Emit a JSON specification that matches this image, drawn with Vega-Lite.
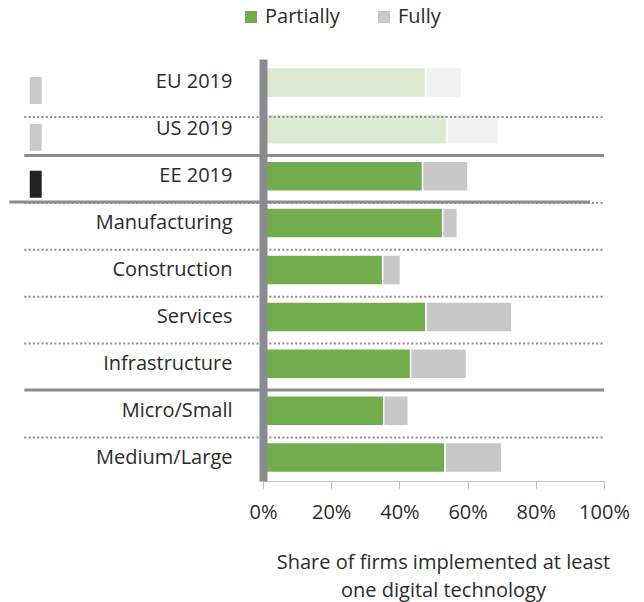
{
  "$schema": "https://vega.github.io/schema/vega-lite/v6.json",
  "width": 341,
  "height": 422,
  "autosize": {"type": "none"},
  "padding": {"left": 263, "top": 59, "right": 40, "bottom": 121},
  "config": {
    "view": {"stroke": null},
    "font": "Open Sans",
    "axis": {"labelFont": "Open Sans", "titleFont": "Open Sans", "labelColor": "#2b2b2b", "titleColor": "#2b2b2b", "titleFontWeight": "normal", "grid": false},
    "legend": {"labelFont": "Open Sans", "labelColor": "#2b2b2b", "labelFontSize": 20, "symbolType": "square", "symbolSize": 144, "symbolStrokeWidth": 0, "orient": "none", "direction": "horizontal", "legendX": -22, "legendY": -52, "columnPadding": 34, "labelOffset": 4, "title": null}
  },
  "datasets": {
    "bars": [
      {"cat": "EU 2019", "type": "Partially", "value": 47.7, "ord": 1, "bench": "yes"},
      {"cat": "EU 2019", "type": "Fully", "value": 10.5, "ord": 2, "bench": "yes"},
      {"cat": "US 2019", "type": "Partially", "value": 54.0, "ord": 1, "bench": "yes"},
      {"cat": "US 2019", "type": "Fully", "value": 15.2, "ord": 2, "bench": "yes"},
      {"cat": "EE 2019", "type": "Partially", "value": 46.8, "ord": 1, "bench": "no"},
      {"cat": "EE 2019", "type": "Fully", "value": 13.3, "ord": 2, "bench": "no"},
      {"cat": "Manufacturing", "type": "Partially", "value": 52.7, "ord": 1, "bench": "no"},
      {"cat": "Manufacturing", "type": "Fully", "value": 4.3, "ord": 2, "bench": "no"},
      {"cat": "Construction", "type": "Partially", "value": 35.1, "ord": 1, "bench": "no"},
      {"cat": "Construction", "type": "Fully", "value": 5.2, "ord": 2, "bench": "no"},
      {"cat": "Services", "type": "Partially", "value": 47.8, "ord": 1, "bench": "no"},
      {"cat": "Services", "type": "Fully", "value": 25.2, "ord": 2, "bench": "no"},
      {"cat": "Infrastructure", "type": "Partially", "value": 43.3, "ord": 1, "bench": "no"},
      {"cat": "Infrastructure", "type": "Fully", "value": 16.4, "ord": 2, "bench": "no"},
      {"cat": "Micro/Small", "type": "Partially", "value": 35.4, "ord": 1, "bench": "no"},
      {"cat": "Micro/Small", "type": "Fully", "value": 7.2, "ord": 2, "bench": "no"},
      {"cat": "Medium/Large", "type": "Partially", "value": 53.4, "ord": 1, "bench": "no"},
      {"cat": "Medium/Large", "type": "Fully", "value": 16.6, "ord": 2, "bench": "no"}
    ],
    "seps": [
      {"cat": "US 2019", "kind": "dotted_high"},
      {"cat": "EE 2019", "kind": "solid"},
      {"cat": "Manufacturing", "kind": "wide"},
      {"cat": "Construction", "kind": "dotted"},
      {"cat": "Services", "kind": "dotted"},
      {"cat": "Infrastructure", "kind": "dotted"},
      {"cat": "Micro/Small", "kind": "solid"},
      {"cat": "Medium/Large", "kind": "dotted"}
    ],
    "markers": [
      {"cat": "EU 2019", "shade": "light"},
      {"cat": "US 2019", "shade": "light"},
      {"cat": "EE 2019", "shade": "dark"}
    ]
  },
  "layer": [
    {
      "data": {"name": "bars"},
      "mark": {"type": "bar", "height": {"band": 0.64}, "stroke": "white", "strokeWidth": 1.5},
      "encoding": {
        "y": {"field": "cat", "type": "nominal", "scale": {"domain": ["EU 2019", "US 2019", "EE 2019", "Manufacturing", "Construction", "Services", "Infrastructure", "Micro/Small", "Medium/Large"], "paddingInner": 0, "paddingOuter": 0},
              "axis": {"title": null, "ticks": false, "domain": true, "domainWidth": 8, "domainColor": "#898c8e", "labelFontSize": 20, "labelPadding": 31, "zindex": 1}},
        "x": {"field": "value", "type": "quantitative", "stack": "zero", "scale": {"domain": [0, 100], "nice": false},
              "axis": {"values": [0, 20, 40, 60, 80, 100], "labelExpr": "datum.value + '%'", "labelFontSize": 20, "labelFlush": false, "labelOverlap": false, "tickSize": 8, "tickColor": "#bfbfbf", "domainColor": "#bfbfbf", "labelPadding": 13,
                       "title": ["Share of firms implemented at least", "one digital technology"], "titleFontSize": 20, "titleLineHeight": 28, "titlePadding": 30, "titleX": 180, "titleAlign": "center"}},
        "color": {"field": "type", "type": "nominal", "scale": {"domain": ["Partially", "Fully"], "range": ["#72ac4d", "#c8c8c6"]}},
        "fillOpacity": {"field": "bench", "type": "nominal", "scale": {"domain": ["no", "yes"], "range": [1, 0.25]}, "legend": null},
        "order": {"field": "ord", "type": "quantitative"}
      }
    },
    {
      "data": {"name": "seps"},
      "transform": [{"filter": "datum.kind === 'dotted' || datum.kind === 'wide'"}],
      "mark": {"type": "rule", "strokeWidth": 2, "strokeDash": [2, 2.3], "color": "#8a8c8e"},
      "encoding": {
        "y": {"field": "cat", "type": "nominal", "bandPosition": 0.07},
        "x": {"datum": -70, "type": "quantitative"},
        "x2": {"datum": 100}
      }
    },
    {
      "data": {"name": "seps"},
      "transform": [{"filter": "datum.kind === 'dotted_high'"}],
      "mark": {"type": "rule", "strokeWidth": 2, "strokeDash": [2, 2.3], "color": "#8a8c8e"},
      "encoding": {
        "y": {"field": "cat", "type": "nominal", "bandPosition": 0.237},
        "x": {"datum": -70, "type": "quantitative"},
        "x2": {"datum": 100}
      }
    },
    {
      "data": {"name": "seps"},
      "transform": [{"filter": "datum.kind === 'solid'"}],
      "mark": {"type": "rule", "strokeWidth": 3, "color": "#898c8e"},
      "encoding": {
        "y": {"field": "cat", "type": "nominal", "bandPosition": 0.06},
        "x": {"datum": -70, "type": "quantitative"},
        "x2": {"datum": 100}
      }
    },
    {
      "data": {"name": "seps"},
      "transform": [{"filter": "datum.kind === 'wide'"}],
      "mark": {"type": "rule", "strokeWidth": 3, "color": "#898c8e"},
      "encoding": {
        "y": {"field": "cat", "type": "nominal", "bandPosition": 0.05},
        "x": {"datum": -74.4, "type": "quantitative"},
        "x2": {"datum": 95.9}
      }
    },
    {
      "data": {"name": "markers"},
      "mark": {"type": "bar", "height": 27, "yOffset": 8},
      "encoding": {
        "y": {"field": "cat", "type": "nominal"},
        "x": {"datum": -68.4, "type": "quantitative"},
        "x2": {"datum": -64.9},
        "color": {"condition": {"test": "datum.shade === 'dark'", "value": "#222222"}, "value": "#c9c9c7"}
      }
    }
  ]
}
